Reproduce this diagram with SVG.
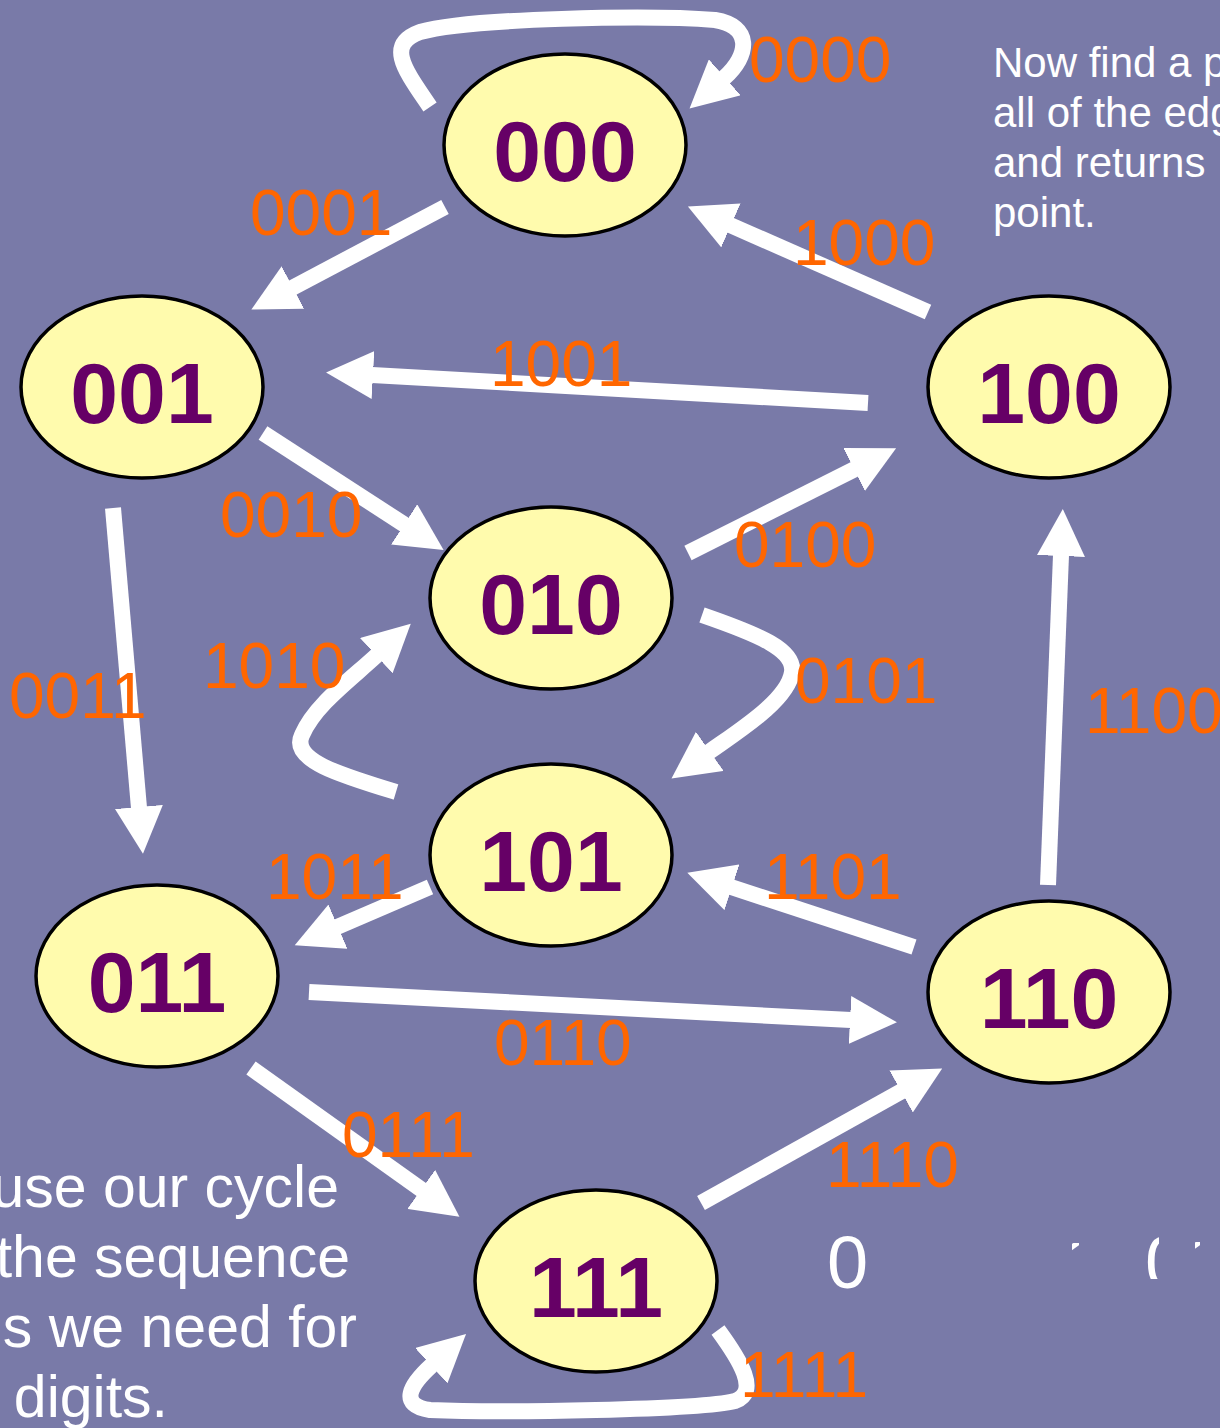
<svg xmlns="http://www.w3.org/2000/svg" width="1220" height="1428" viewBox="0 0 1220 1428">
  <defs>
    <style>
      .edge { fill: none; stroke: #ffffff; stroke-width: 16; marker-end: url(#head); }
      .node ellipse { fill: #fffbad; stroke: #000000; stroke-width: 3.5; }
      .node text { font-family: "Liberation Sans", Arial, sans-serif; font-weight: bold; font-size: 86px; fill: #660066; text-anchor: middle; }
      .lbl { font-family: "Liberation Sans", Arial, sans-serif; font-size: 64px; fill: #ff6600; }
      .note { font-family: "Liberation Sans", Arial, sans-serif; fill: #ffffff; }
    </style>
    <marker id="head" markerUnits="userSpaceOnUse" markerWidth="48" markerHeight="48" viewBox="0 0 48 48" refX="1" refY="24" orient="auto">
      <path d="M0,0 L47,24 L0,48 z" fill="#ffffff"/>
    </marker>
    <clipPath id="frag1"><rect x="1072" y="1243" width="7" height="11"/></clipPath>
    <clipPath id="frag2"><rect x="1140" y="1230" width="19" height="49"/></clipPath>
    <clipPath id="frag3"><rect x="1195" y="1242" width="5" height="10"/></clipPath>
  </defs>

  <rect width="1220" height="1428" fill="#797aa8"/>

  <!-- connectors -->
  <g id="connectors">
    <path class="edge" d="M430,107 C405,70 385,45 420,32 C470,18 650,15 715,20 C752,26 750,55 724,78"/>
    <path class="edge" d="M445,207 L292,288"/>
    <path class="edge" d="M928,312 L730,225"/>
    <path class="edge" d="M868,403 L372,375"/>
    <path class="edge" d="M263,433 L405,525"/>
    <path class="edge" d="M113,508 L139,808"/>
    <path class="edge" d="M688,553 L855,469"/>
    <path class="edge" d="M702,615 C760,635 795,650 792,672 C788,700 740,730 709,752"/>
    <path class="edge" d="M396,792 C340,775 290,760 302,735 C315,705 350,680 377,655"/>
    <path class="edge" d="M430,887 L337,927"/>
    <path class="edge" d="M309,992 L851,1020"/>
    <path class="edge" d="M914,947 L731,887"/>
    <path class="edge" d="M251,1068 L422,1190"/>
    <path class="edge" d="M701,1203 L902,1091"/>
    <path class="edge" d="M1048,885 L1061,555"/>
    <path class="edge" d="M718,1330 C740,1360 760,1392 735,1401 C700,1410 500,1413 430,1410 C398,1405 410,1385 432,1365"/>
  </g>

  <!-- states -->
  <g id="n000" class="node"><ellipse cx="565" cy="145" rx="121" ry="91"/><text x="565" y="181">000</text></g>
  <g id="n001" class="node"><ellipse cx="142" cy="387" rx="121" ry="91"/><text x="142" y="423">001</text></g>
  <g id="n010" class="node"><ellipse cx="551" cy="598" rx="121" ry="91"/><text x="551" y="634">010</text></g>
  <g id="n100" class="node"><ellipse cx="1049" cy="387" rx="121" ry="91"/><text x="1049" y="423">100</text></g>
  <g id="n101" class="node"><ellipse cx="551" cy="855" rx="121" ry="91"/><text x="551" y="891">101</text></g>
  <g id="n011" class="node"><ellipse cx="157" cy="976" rx="121" ry="91"/><text x="157" y="1012">011</text></g>
  <g id="n110" class="node"><ellipse cx="1049" cy="992" rx="121" ry="91"/><text x="1049" y="1028">110</text></g>
  <g id="n111" class="node"><ellipse cx="596" cy="1281" rx="121" ry="91"/><text x="596" y="1317">111</text></g>

  <!-- edge labels -->
  <g id="edge-labels" class="lbl">
    <text x="749" y="82">0000</text>
    <text x="250" y="235">0001</text>
    <text x="793" y="265">1000</text>
    <text x="490" y="386">1001</text>
    <text x="220" y="537">0010</text>
    <text x="734" y="567">0100</text>
    <text x="795" y="703">0101</text>
    <text x="203" y="688">1010</text>
    <text x="9" y="718">0011</text>
    <text x="1085" y="733">1100</text>
    <text x="266" y="899">1011</text>
    <text x="764" y="899">1101</text>
    <text x="494" y="1065">0110</text>
    <text x="342" y="1157">0111</text>
    <text x="826" y="1187">1110</text>
    <text x="740" y="1397">1111</text>
  </g>

  <!-- side notes -->
  <g id="note-right" class="note" font-size="42">
    <text x="993" y="77">Now find a p</text>
    <text x="993" y="127">all of the edg</text>
    <text x="993" y="177">and returns</text>
    <text x="993" y="227">point.</text>
  </g>
  <g id="note-left" class="note" font-size="59" text-anchor="end">
    <text x="339" y="1207">use our cycle</text>
    <text x="350" y="1277">the sequence</text>
    <text x="357" y="1347">s we need for</text>
    <text x="168" y="1417">digits.</text>
  </g>
  <g id="sequence" class="note" font-size="74">
    <text x="827" y="1288">0</text>
    <text x="1063" y="1288" clip-path="url(#frag1)">1</text>
    <text x="1145" y="1288" clip-path="url(#frag2)">0</text>
    <text x="1184" y="1288" clip-path="url(#frag3)">1</text>
  </g>
</svg>
